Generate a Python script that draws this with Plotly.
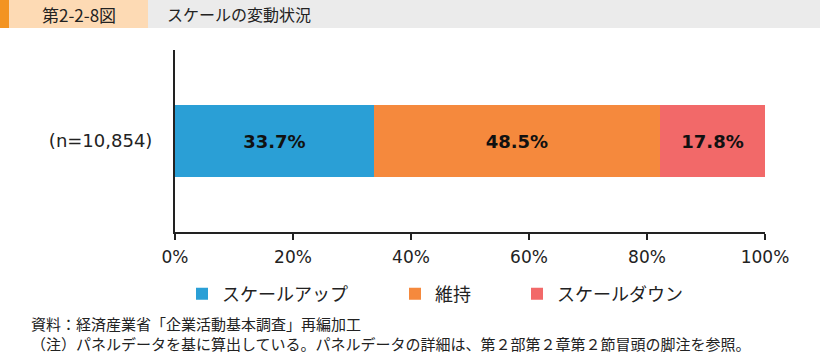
import plotly.graph_objects as go

W, H = 820, 353
L, R, T, B = 175, 55, 50, 121
PW, PH = W - L - R, H - T - B

category = ["(n=10,854)"]
series_names = ["スケールアップ", "維持", "スケールダウン"]
series_values = [[0.337], [0.485], [0.178]]
series_colors = ["#2A9FD6", "#F5893D", "#F26969"]
tick_vals = [0, 0.2, 0.4, 0.6, 0.8, 1.0]
tick_text = ["0%", "20%", "40%", "60%", "80%", "100%"]
fig_number = "第2-2-8図"
fig_title = "スケールの変動状況"
source_note = "資料：経済産業省「企業活動基本調査」再編加工"
footnote = "（注）パネルデータを基に算出している。パネルデータの詳細は、第２部第２章第２節冒頭の脚注を参照。"

JP = "Noto Sans CJK JP"
NUM = "DejaVu Sans"

def px(x):
    return (x - L) / PW

def py(y):
    return (H - B - y) / PH

fig = go.Figure()
legend_names = ["legend", "legend2", "legend3"]
legend_x = [196, 409, 531]
for i, (name, vals, col) in enumerate(zip(series_names, series_values, series_colors)):
    fig.add_trace(go.Bar(
        y=category, x=vals, name=name, orientation="h",
        marker=dict(color=col, line=dict(width=0)),
        text=[f"{v*100:.1f}%" for v in vals],
        textposition="inside", insidetextanchor="middle",
        textfont=dict(family=NUM, size=18, color="#111111", weight="bold"),
        width=0.4, legend=legend_names[i],
    ))

layout_legends = {}
for i, ln in enumerate(legend_names):
    layout_legends[ln] = dict(
        x=px(legend_x[i] - 14), y=py(294), xanchor="left", yanchor="middle",
        orientation="h", font=dict(family=JP, size=18, color="#222222"),
        bgcolor="rgba(0,0,0,0)", borderwidth=0, itemwidth=30,
        itemclick=False, itemdoubleclick=False,
    )

fig.update_layout(
    width=W, height=H,
    margin=dict(l=L, r=R, t=T, b=B, pad=0),
    paper_bgcolor="white", plot_bgcolor="white",
    barmode="stack", showlegend=True,
    xaxis=dict(range=[0, 1], tickvals=tick_vals, ticktext=tick_text,
               ticks="outside", ticklen=6, tickwidth=1.5, tickcolor="#222222",
               showline=True, linewidth=2, linecolor="#222222",
               showgrid=False, zeroline=False, ticklabelstandoff=3,
               tickfont=dict(family=NUM, size=17, color="#222222")),
    yaxis=dict(showline=True, linewidth=2, linecolor="#222222",
               showgrid=False, zeroline=False, ticks="",
               ticklabelstandoff=17,
               tickfont=dict(family=NUM, size=18, color="#222222")),
    font=dict(family=JP),
    **layout_legends,
)

shapes = [
    dict(type="rect", xref="paper", yref="paper", x0=px(0), x1=px(W), y0=py(28), y1=py(0),
         fillcolor="#EBEBEB", line=dict(width=0), layer="below"),
    dict(type="rect", xref="paper", yref="paper", x0=px(9), x1=px(148), y0=py(28), y1=py(0),
         fillcolor="#FDDAB4", line=dict(width=0), layer="below"),
    dict(type="rect", xref="paper", yref="paper", x0=px(0), x1=px(9), y0=py(28), y1=py(0),
         fillcolor="#F39422", line=dict(width=0), layer="below"),
    dict(type="line", xref="paper", yref="paper", x0=0, x1=0, y0=0, y1=py(238),
         line=dict(color="#222222", width=2)),
]
fig.update_layout(shapes=shapes)

ann = [
    dict(text=fig_number, x=px(79), y=py(14), xanchor="center", yanchor="middle",
         font=dict(family=JP, size=17, color="#222222")),
    dict(text=fig_title, x=px(165), y=py(14), xanchor="left", yanchor="middle",
         font=dict(family=JP, size=16, color="#222222")),
    dict(text=source_note, x=px(30), y=py(323.5), xanchor="left", yanchor="middle",
         font=dict(family=JP, size=15, color="#222222"), borderpad=0),
    dict(text=footnote, x=px(30), y=py(343.5), xanchor="left", yanchor="middle",
         font=dict(family=JP, size=15, color="#222222"), borderpad=0),
]
for a in ann:
    a.update(xref="paper", yref="paper", showarrow=False)
fig.update_layout(annotations=ann)

fig.write_html("out.html")
